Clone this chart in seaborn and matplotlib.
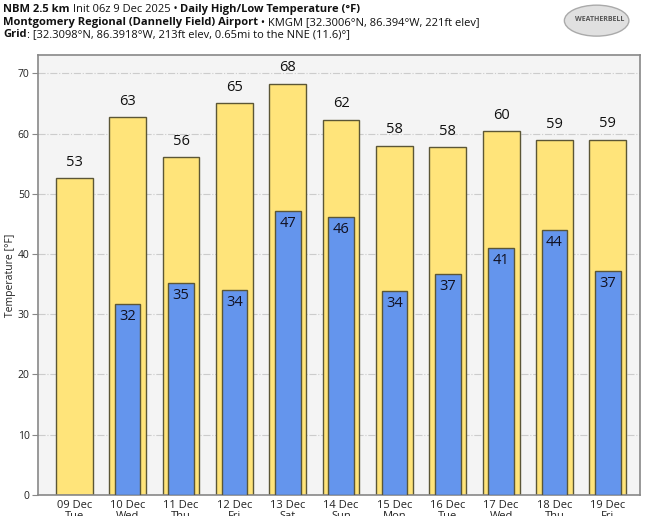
import numpy as np
import pandas as pd
import seaborn as sns
import matplotlib.pyplot as plt
from matplotlib.patches import Ellipse

days = ["09 Dec\nTue", "10 Dec\nWed", "11 Dec\nThu", "12 Dec\nFri", "13 Dec\nSat", "14 Dec\nSun",
        "15 Dec\nMon", "16 Dec\nTue", "17 Dec\nWed", "18 Dec\nThu", "19 Dec\nFri"]
highs = [52.6, 62.7, 56.1, 65.0, 68.3, 62.3, 58.0, 57.7, 60.4, 58.9, 59.0]
lows = [np.nan, 31.7, 35.2, 34.0, 47.1, 46.1, 33.8, 36.6, 41.0, 43.9, 37.1]

df = pd.DataFrame({"day": days, "high": highs, "low": lows})

sns.set_style("white")
plt.rcParams['font.family'] = ['Open Sans', 'DejaVu Sans']

fig = plt.figure(figsize=(6.45, 5.16), dpi=100)
ax = fig.add_axes([0.059, 0.041, 0.933, 0.852])
ax.set_facecolor("#f4f4f4")

edge = "#5b5636"
sns.barplot(data=df, x="day", y="high", color="#ffe47a", edgecolor=edge, linewidth=1.0,
            width=0.69, saturation=1, ax=ax, zorder=2)
sns.barplot(data=df, x="day", y="low", color="#6495ed", edgecolor=edge, linewidth=1.0,
            width=0.48, saturation=1, ax=ax, zorder=3)

for i, (h, l) in enumerate(zip(highs, lows)):
    ax.text(i, h + 1.4, f"{round(h):d}", ha="center", va="bottom", fontsize=10.5, color="#111111", zorder=5)
    if not np.isnan(l):
        ax.text(i, l - 0.8, f"{round(l):d}", ha="center", va="top", fontsize=10.5, color="#111122", zorder=5)

ax.set_ylim(0, 73)
ax.set_xlim(-0.68, 10.6)
ax.set_yticks(range(0, 71, 10))
ax.yaxis.grid(True, linestyle="-.", color="#cccccc", linewidth=0.8, zorder=0)
ax.set_axisbelow(True)
ax.tick_params(axis="y", left=True, length=4, color="#888888", labelsize=7.5, labelcolor="#222222", pad=2)
ax.tick_params(axis="x", bottom=False, labelsize=8, labelcolor="#222222", pad=0)
for lab in ax.get_xticklabels():
    lab.set_linespacing(1.0)
ax.set_xlabel("")
ax.set_ylabel("Temperature [°F]", fontsize=7.5, color="#222222")
ax.yaxis.set_label_coords(-0.037, 0.5)
for s in ax.spines.values():
    s.set_color("#888888")
    s.set_linewidth(1.2)

# title lines with bold/regular pieces
fig.canvas.draw()
renderer = fig.canvas.get_renderer()
lines = [
    [("NBM 2.5 km", "bold"), (" Init 06z 9 Dec 2025 • ", "normal"), ("Daily High/Low Temperature (°F)", "bold")],
    [("Montgomery Regional (Dannelly Field) Airport", "bold"), (" • KMGM [32.3006°N, 86.394°W, 221ft elev]", "normal")],
    [("Grid", "bold"), (": [32.3098°N, 86.3918°W, 213ft elev, 0.65mi to the NNE (11.6)°]", "normal")],
]
ys = [0.981, 0.956, 0.933]
for parts, y in zip(lines, ys):
    x = 0.005
    for txt, w in parts:
        t = fig.text(x, y, txt, fontsize=8, fontweight=w, color="#111111", va="center", ha="left")
        bb = t.get_window_extent(renderer)
        x += bb.width / fig.bbox.width

# logo
fig.patches.append(Ellipse((0.925, 0.96), 0.1, 0.06, transform=fig.transFigure,
                           facecolor="#e0e0e0", edgecolor="#aaaaaa", linewidth=1))
fig.text(0.93, 0.962, "WEATHERBELL", fontsize=5, color="#555555", ha="center", va="center",
         fontweight="bold")

fig.savefig("out.png", dpi=100)
